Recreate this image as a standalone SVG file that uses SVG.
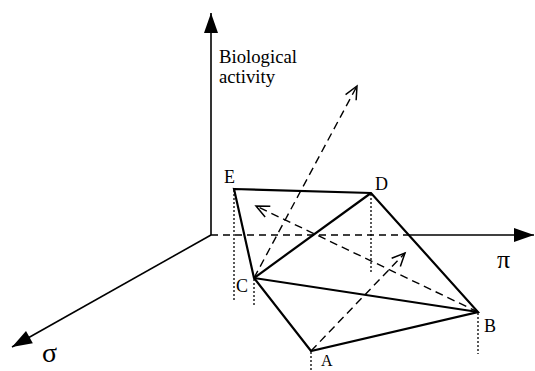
<svg xmlns="http://www.w3.org/2000/svg" width="535" height="371" viewBox="0 0 535 371">
<style>
.axis{stroke:#000;stroke-width:1.6;fill:none}
.axdash{stroke:#000;stroke-width:1.4;fill:none;stroke-dasharray:7,5}
.edge{stroke:#000;stroke-width:2.2;fill:none;stroke-linejoin:miter}
.dot{stroke:#000;stroke-width:1.3;fill:none;stroke-dasharray:2,2}
.vec{stroke:#000;stroke-width:1.4;fill:none;stroke-dasharray:8,5}
text{fill:#000}
</style>
<defs>
<marker id="solidHead" markerUnits="userSpaceOnUse" viewBox="-21 -8 22 16" refX="0" refY="0" markerWidth="22" markerHeight="16" orient="auto" overflow="visible">
<path d="M0,0 L-20,-7 L-20,7 z" fill="#000"/>
</marker>
<marker id="openHead" markerUnits="userSpaceOnUse" viewBox="-14 -8 16 16" refX="0" refY="0" markerWidth="16" markerHeight="16" orient="auto" overflow="visible">
<path d="M-13,-6 L0,0 L-13,6" fill="none" stroke="#000" stroke-width="1.5" stroke-dasharray="none"/>
</marker>
</defs>
<g id="axes" font-family="'Liberation Serif', 'DejaVu Serif', serif" font-size="18">
<line class="axis" x1="211" y1="235" x2="211" y2="13" marker-end="url(#solidHead)"/>
<line class="axdash" x1="211" y1="235" x2="408" y2="235"/>
<line class="axis" x1="408" y1="235" x2="534" y2="235" marker-end="url(#solidHead)"/>
<line class="axis" x1="211" y1="235" x2="12" y2="347" marker-end="url(#solidHead)"/>
<text x="219" y="63" textLength="78" lengthAdjust="spacingAndGlyphs">Biological</text>
<text x="219" y="83" textLength="56" lengthAdjust="spacingAndGlyphs">activity</text>
<text x="497" y="268" font-size="26">π</text>
<text x="42" y="362" font-size="28">σ</text>
</g>
<g id="connectors">
<line class="dot" x1="234" y1="190" x2="234" y2="302"/>
<line class="dot" x1="254" y1="279" x2="254" y2="306"/>
<line class="dot" x1="371" y1="194" x2="371" y2="274"/>
<line class="dot" x1="478" y1="313" x2="478" y2="354"/>
<line class="dot" x1="311" y1="352" x2="311" y2="371"/>
<line class="vec" x1="254" y1="278" x2="357" y2="86" marker-end="url(#openHead)"/>
<line class="vec" x1="478" y1="312" x2="256" y2="206" marker-end="url(#openHead)"/>
<line class="vec" x1="311" y1="351" x2="405" y2="253" marker-end="url(#openHead)"/>
</g>
<g id="polygon">
<path class="edge" d="M234,189 L371,193 L478,312 L311,351 L254,278 Z"/>
<line class="edge" x1="254" y1="278" x2="371" y2="193"/>
<line class="edge" x1="254" y1="278" x2="478" y2="312"/>
</g>
<g id="labels" font-family="'Liberation Serif', 'DejaVu Serif', serif" font-size="18">
<g id="node-E"><text x="224" y="183">E</text></g>
<g id="node-D"><text x="375" y="190">D</text></g>
<g id="node-C"><text x="236" y="292">C</text></g>
<g id="node-B"><text x="484" y="332">B</text></g>
<g id="node-A"><text x="321" y="366" font-size="16">A</text></g>
</g>
</svg>
